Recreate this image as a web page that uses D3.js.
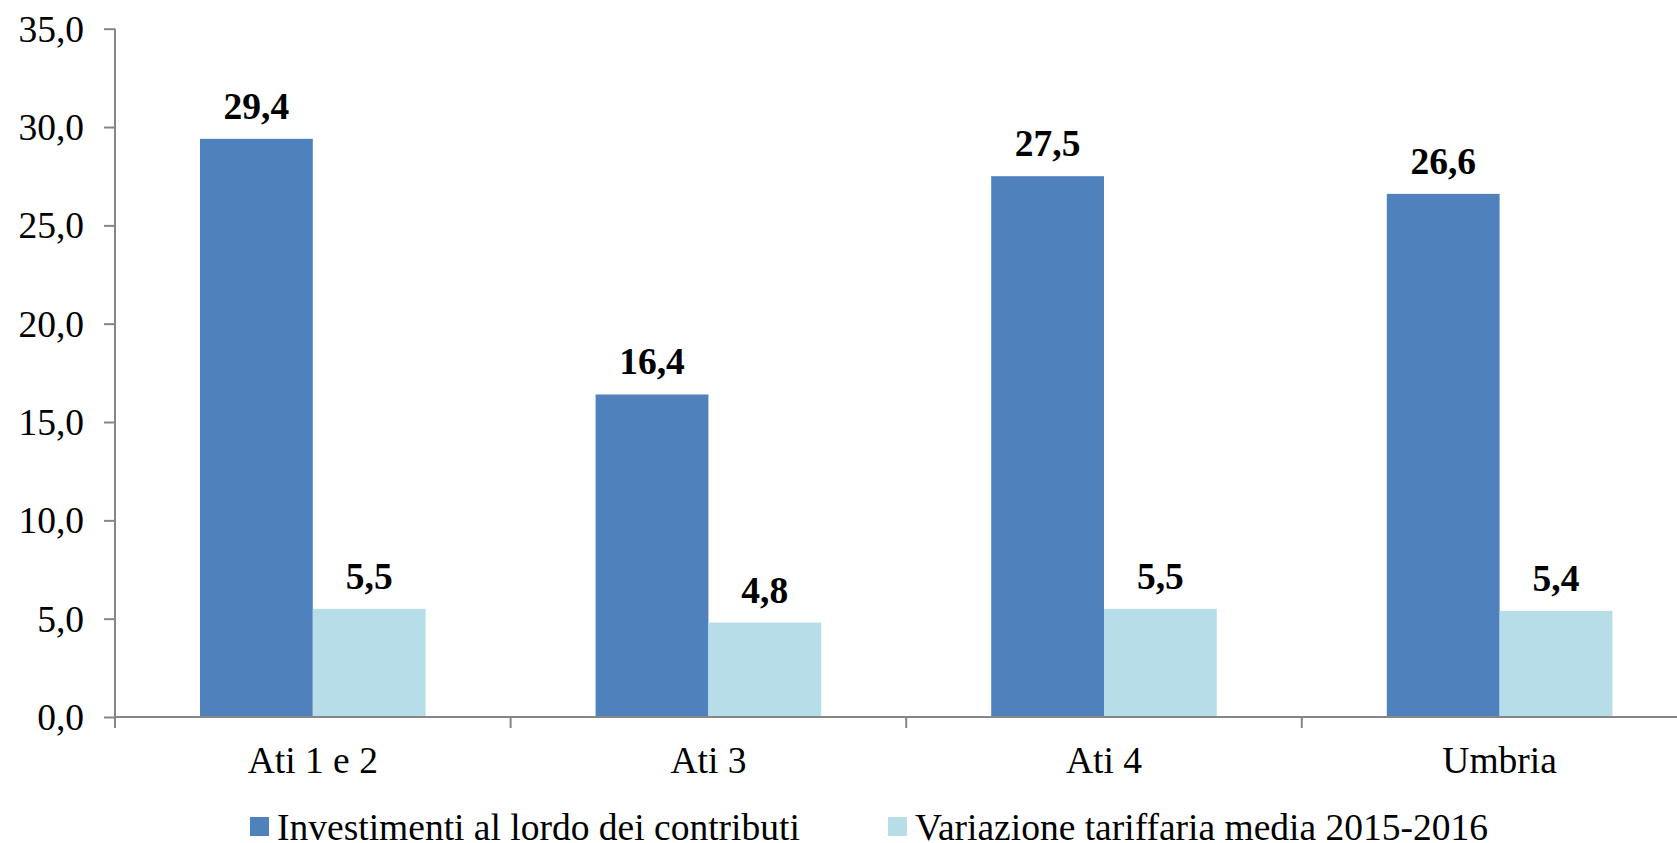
<!DOCTYPE html>
<html>
<head>
<meta charset="utf-8">
<script src="https://cdn.jsdelivr.net/npm/d3@7"></script>
<style>
  body { margin: 0; background: #fff; }
  svg { display: block; }
  svg text { font-family: "Times New Roman", "Liberation Serif", "DejaVu Serif", serif; }
</style>
</head>
<body>
<div id="chart"></div>
<script>
const categories = ['Ati 1 e 2', 'Ati 3', 'Ati 4', 'Umbria'];
const seriesNames = ['Investimenti al lordo dei contributi', 'Variazione tariffaria media 2015-2016'];
const investimenti = [29.4, 16.4, 27.5, 26.6];
const variazione = [5.5, 4.8, 5.5, 5.4];
const yTicks = [0, 5, 10, 15, 20, 25, 30, 35];

const width = 1677;
const height = 843;
const plotLeft = 115;
const step = 395.6;
const plotTop = 28.7;
const plotBottom = 717;
const barPad = 85;
const colours = ['#4F81BD', '#B7DDE8'];
const axisColour = '#868686';
const fontSize = 37.5;

const fmt = v => d3.format('.1f')(v).replace('.', ',');

const svg = d3.select('#chart')
  .append('svg')
  .attr('width', width)
  .attr('height', height);

const x0 = d3.scaleBand()
  .domain(categories)
  .range([plotLeft, plotLeft + step * categories.length])
  .padding(0);

const x1 = d3.scaleBand()
  .domain(seriesNames)
  .range([barPad, x0.bandwidth() - barPad]);

const y = d3.scaleLinear()
  .domain([0, 35])
  .range([plotBottom, plotTop]);

const rows = categories.map((c, i) => ({
  category: c,
  values: [investimenti[i], variazione[i]].map((v, j) => ({ series: seriesNames[j], value: v, idx: j }))
}));

// bars
const groups = svg.append('g')
  .selectAll('g')
  .data(rows)
  .join('g')
  .attr('transform', d => `translate(${x0(d.category)},0)`);

groups.selectAll('rect')
  .data(d => d.values)
  .join('rect')
  .attr('x', d => x1(d.series))
  .attr('y', d => y(d.value))
  .attr('width', x1.bandwidth())
  .attr('height', d => y(0) - y(d.value))
  .attr('fill', d => colours[d.idx]);

groups.selectAll('text')
  .data(d => d.values)
  .join('text')
  .attr('x', d => x1(d.series) + x1.bandwidth() / 2)
  .attr('y', d => y(d.value) - 20)
  .attr('text-anchor', 'middle')
  .attr('font-weight', 'bold')
  .attr('font-size', fontSize)
  .attr('fill', '#000')
  .text(d => fmt(d.value));

// y axis
const yAxis = svg.append('g')
  .attr('transform', `translate(${plotLeft},0)`)
  .call(d3.axisLeft(y).tickValues(yTicks).tickFormat(fmt).tickSize(11).tickPadding(20));

yAxis.attr('font-family', null).attr('font-size', null);
yAxis.select('.domain').remove();
yAxis.selectAll('.tick line').attr('stroke', axisColour).attr('stroke-width', 2);
yAxis.selectAll('.tick text')
  .attr('font-size', fontSize)
  .attr('fill', '#000')
  .attr('dy', '0.33em');

svg.append('line')
  .attr('x1', plotLeft).attr('x2', plotLeft)
  .attr('y1', y(35)).attr('y2', plotBottom + 11)
  .attr('stroke', axisColour).attr('stroke-width', 2);

// x axis
svg.append('line')
  .attr('x1', plotLeft).attr('x2', x0.range()[1])
  .attr('y1', plotBottom).attr('y2', plotBottom)
  .attr('stroke', axisColour).attr('stroke-width', 2);

svg.append('g')
  .selectAll('line')
  .data(categories)
  .join('line')
  .attr('x1', d => x0(d) + step)
  .attr('x2', d => x0(d) + step)
  .attr('y1', plotBottom)
  .attr('y2', plotBottom + 11)
  .attr('stroke', axisColour).attr('stroke-width', 2);

svg.append('g')
  .selectAll('text')
  .data(categories)
  .join('text')
  .attr('x', d => x0(d) + x0.bandwidth() / 2)
  .attr('y', 773)
  .attr('text-anchor', 'middle')
  .attr('font-size', fontSize)
  .attr('fill', '#000')
  .text(d => d);

// legend
const legendX = [250, 888];
const legend = svg.append('g')
  .selectAll('g')
  .data(seriesNames)
  .join('g')
  .attr('transform', (d, i) => `translate(${legendX[i]},817)`);

legend.append('rect')
  .attr('width', 19)
  .attr('height', 19)
  .attr('fill', (d, i) => colours[i]);

legend.append('text')
  .attr('x', 27)
  .attr('y', 11)
  .attr('dy', '0.33em')
  .attr('font-size', fontSize)
  .attr('fill', '#000')
  .text(d => d);
</script>
</body>
</html>
